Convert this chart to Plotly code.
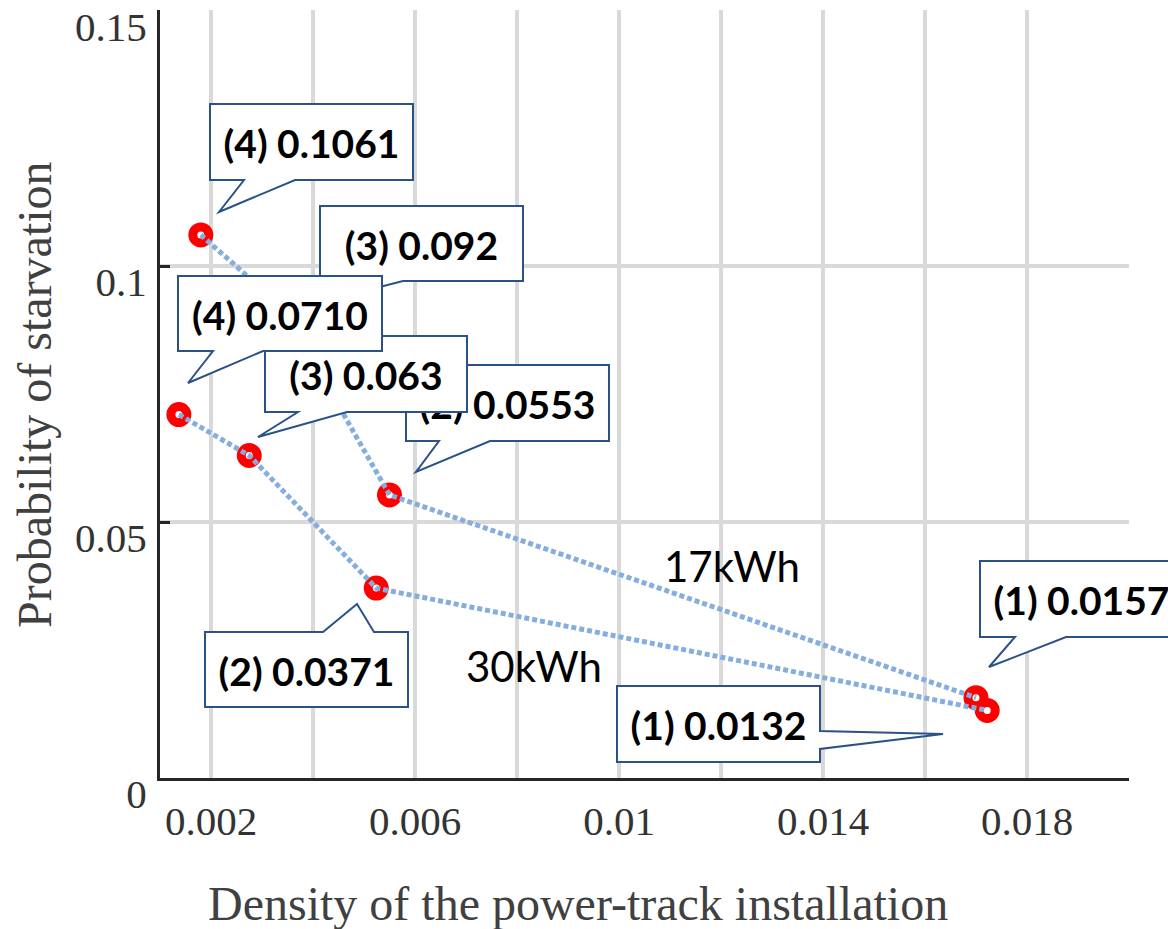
import plotly.graph_objects as go

# ---- data -------------------------------------------------------------
# 17 kWh battery: points (4) -> (1)
density_17kwh = [0.0018, 0.0034, 0.0055, 0.0170]
starvation_17kwh = [0.1061, 0.092, 0.0553, 0.0157]
labels_17kwh = ["(4) 0.1061", "(3) 0.092", "(2) 0.0553", "(1) 0.0157"]

# 30 kWh battery: points (4) -> (1)
density_30kwh = [0.00137, 0.00275, 0.00524, 0.01722]
starvation_30kwh = [0.0710, 0.063, 0.0371, 0.0132]
labels_30kwh = ["(4) 0.0710", "(3) 0.063", "(2) 0.0371", "(1) 0.0132"]

x_tickvals = [0.002, 0.004, 0.006, 0.008, 0.010, 0.012, 0.014, 0.016, 0.018, 0.020]
x_ticktext = ["0.002", "", "0.006", "", "0.01", "", "0.014", "", "0.018", ""]
y_tickvals = [0, 0.05, 0.10, 0.15]
y_ticktext = ["0", "0.05", "0.1", "0.15"]

# ---- layout geometry (pixels) ----------------------------------------
W, H = 1168, 929
PLOT_L, PLOT_R, PLOT_T, PLOT_B = 160, 1129, 10, 778


def px(x):
    return (x - PLOT_L) / (PLOT_R - PLOT_L)


def py(y):
    return (PLOT_B - y) / (PLOT_B - PLOT_T)


LINE_COLOR = "#84AEE0"
RING_COLOR = "#FF0000"
BOX_COLOR = "#2B5288"
SERIF = "Liberation Serif, Times New Roman, serif"
SANS = "Lato, Open Sans, sans-serif"

fig = go.Figure()

# markers first, then the dotted connecting lines on top of them
for xs, ys in [(density_17kwh, starvation_17kwh), (density_30kwh, starvation_30kwh)]:
    fig.add_trace(go.Scatter(
        x=xs, y=ys, mode="markers", showlegend=False, hoverinfo="skip",
        marker=dict(symbol="circle", size=16, color="white",
                    line=dict(color=RING_COLOR, width=9)),
    ))
for xs, ys in [(density_17kwh, starvation_17kwh), (density_30kwh, starvation_30kwh)]:
    fig.add_trace(go.Scatter(
        x=xs, y=ys, mode="lines", showlegend=False, hoverinfo="skip",
        line=dict(color=LINE_COLOR, width=5, dash="5px,3px"),
    ))

# ---- speech-bubble callouts ------------------------------------------
# box = (left, top, right, bottom); tail sits on one edge between base points
callouts = [
    dict(text=labels_17kwh[0], box=(210, 104, 413, 180), edge="bottom", base=(244, 295), tip=(219, 212)),
    dict(text=labels_17kwh[3], box=(980, 561, 1183, 637), edge="bottom", base=(1015, 1066), tip=(989, 667)),
    dict(text=labels_30kwh[3], box=(617, 686, 820, 762), edge="right", base=(731, 749), tip=(943, 734)),
    dict(text=labels_30kwh[2], box=(205, 632, 408, 707), edge="top", base=(323, 374), tip=(357, 604)),
    dict(text=labels_17kwh[1], box=(320, 206, 523, 281), edge="bottom", base=(345, 403), tip=(290, 310)),
    dict(text=labels_17kwh[2], box=(406, 365, 609, 441), edge="bottom", base=(439, 490), tip=(416, 472)),
    dict(text=labels_30kwh[1], box=(265, 336, 467, 412), edge="bottom", base=(298, 347), tip=(258, 437)),
    dict(text=labels_30kwh[0], box=(178, 276, 382, 351), edge="bottom", base=(213, 263), tip=(188, 383)),
]


def bubble_path(c):
    x0, y0, x1, y1 = c["box"]
    a, b = c["base"]
    tx, ty = c["tip"]
    pts = [(x0, y0)]
    if c["edge"] == "top":
        pts += [(a, y0), (tx, ty), (b, y0)]
    pts.append((x1, y0))
    if c["edge"] == "right":
        pts += [(x1, a), (tx, ty), (x1, b)]
    pts.append((x1, y1))
    if c["edge"] == "bottom":
        pts += [(b, y1), (tx, ty), (a, y1)]
    pts.append((x0, y1))
    d = "M " + " L ".join(f"{px(x):.5f},{py(y):.5f}" for x, y in pts) + " Z"
    return d


for c in callouts:
    x0, y0, x1, y1 = c["box"]
    fig.add_shape(type="path", path=bubble_path(c), xref="paper", yref="paper",
                  fillcolor="white", line=dict(color=BOX_COLOR, width=2), layer="above")
    fig.add_shape(type="rect", xref="paper", yref="paper",
                  x0=px(x0), x1=px(x1), y0=py(y1), y1=py(y0),
                  fillcolor="rgba(0,0,0,0)", line=dict(width=0), layer="above",
                  label=dict(text=f"<b>{c['text']}</b>", textposition="middle center",
                             font=dict(family=SANS, size=39, color="black")))

# series names
for name, (xc, yc) in [("17kWh", (732, 566)), ("30kWh", (534, 666))]:
    fig.add_annotation(text=name, xref="paper", yref="paper", x=px(xc), y=py(yc),
                       showarrow=False, xanchor="center", yanchor="middle",
                       font=dict(family=SANS, size=42, color="black"))

# axis titles
fig.add_annotation(text="Density of the power-track installation", xref="paper", yref="paper",
                   x=px(578), y=py(903), showarrow=False, xanchor="center", yanchor="middle",
                   font=dict(family=SERIF, size=48, color="#404040"))
fig.add_annotation(text="Probability of starvation", xref="paper", yref="paper",
                   x=px(35), y=py(395), showarrow=False, xanchor="center", yanchor="middle",
                   textangle=-90, font=dict(family=SERIF, size=48, color="#404040"))

fig.update_xaxes(
    range=[0.001, 0.020], tickmode="array", tickvals=x_tickvals, ticktext=x_ticktext,
    showgrid=True, gridcolor="#D9D9D9", gridwidth=4, zeroline=False,
    showline=True, linecolor="#262626", linewidth=3, ticks="",
    tickfont=dict(family=SERIF, size=41, color="#333333"), ticklabelstandoff=5,
    automargin=False,
)
fig.update_yaxes(
    range=[0, 0.15004], tickmode="array", tickvals=y_tickvals, ticktext=y_ticktext,
    showgrid=True, gridcolor="#D9D9D9", gridwidth=4, zeroline=False,
    showline=True, linecolor="#262626", linewidth=3,
    ticks="inside", ticklen=10, tickwidth=3, tickcolor="#262626",
    tickfont=dict(family=SERIF, size=41, color="#333333"),
    ticklabelstandoff=2, ticklabelshift=16, automargin=False,
)
fig.update_layout(
    width=W, height=H,
    margin=dict(l=PLOT_L, r=W - PLOT_R, t=PLOT_T, b=H - PLOT_B),
    paper_bgcolor="white", plot_bgcolor="white",
    showlegend=False,
)

fig.write_html("out.html")
